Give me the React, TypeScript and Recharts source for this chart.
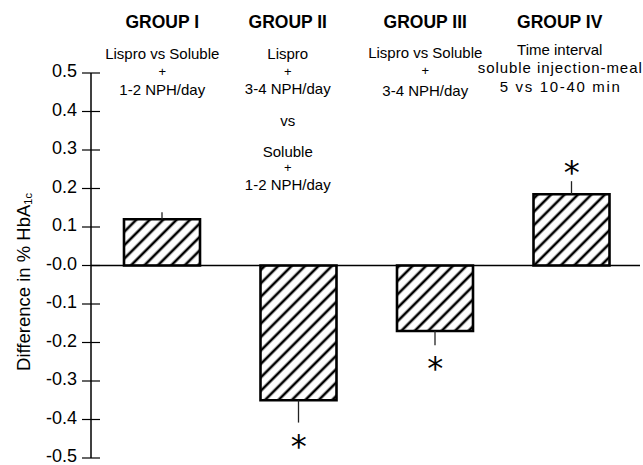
import React from 'react';
import { BarChart, Bar, XAxis, YAxis, ReferenceLine, ErrorBar, ReferenceDot } from 'recharts';

const groups = ['GROUP I', 'GROUP II', 'GROUP III', 'GROUP IV'];
const groupDescriptions = [
  ['Lispro vs Soluble', '+', '1-2 NPH/day'],
  ['Lispro', '+', '3-4 NPH/day', 'vs', 'Soluble', '+', '1-2 NPH/day'],
  ['Lispro vs Soluble', '+', '3-4 NPH/day'],
  ['Time interval', 'soluble injection-meal', '5 vs 10-40 min'],
];
const hba1cDifference = [0.12, -0.35, -0.17, 0.185];
const errorLower = [0, 0.058, 0.037, 0];
const errorUpper = [0.018, 0, 0, 0.034];
const significant = [false, true, true, true];
const yTicks = [0.5, 0.4, 0.3, 0.2, 0.1, 0, -0.1, -0.2, -0.3, -0.4, -0.5];
const yAxisTitle = 'Difference in % HbA';
const yAxisTitleSub = '1c';
const starLabel = '*';

const data = groups.map((g, i) => ({
  group: g,
  value: hba1cDifference[i],
  err: [errorLower[i], errorUpper[i]],
  sig: significant[i],
  errEnd: hba1cDifference[i] + (hba1cDifference[i] >= 0 ? errorUpper[i] : -errorLower[i]),
}));

const FONT = '"Liberation Sans", Arial, Helvetica, sans-serif';

// header layout (styling only)
const headerDx = [0, -11, -10, -12];
const titleY = 22;
const lineYs = [
  [53, 71, 89],
  [53, 71, 88, 120, 151, 167, 184],
  [52, 70, 90],
  [49, 67, 86],
];
const lineLengths: Record<number, (number | undefined)[]> = { 3: [undefined, 164, 120] };

const HeaderTick = (props: any) => {
  const { x, payload } = props;
  const index = groups.indexOf(payload.value);
  if (index < 0) return null;
  const cx = x + headerDx[index];
  return (
    <g>
      <text x={cx} y={titleY} textAnchor="middle" dominantBaseline="central" fontFamily={FONT} fontWeight="bold" fontSize={17.5} fill="#000">
        {groups[index]}
      </text>
      {groupDescriptions[index].map((line, j) => {
        const len = lineLengths[index] ? lineLengths[index][j] : undefined;
        return (
          <text
            key={j}
            x={cx}
            y={lineYs[index][j]}
            textAnchor="middle"
            dominantBaseline="central"
            fontFamily={FONT}
            fontSize={line === '+' ? 13 : 15}
            fill="#000"
            {...(len ? { textLength: len, lengthAdjust: 'spacing' } : {})}
          >
            {line}
          </text>
        );
      })}
    </g>
  );
};

const YTick = (props: any) => {
  const { x, y, payload } = props;
  const v = payload.value as number;
  const label = Math.abs(v) < 1e-9 ? '-0.0' : v.toFixed(1);
  return (
    <g>
      <line x1={x - 9} x2={x + 9} y1={y} y2={y} stroke="#000" strokeWidth={1.2} />
      <text x={x - 14} y={y - 2} textAnchor="end" dominantBaseline="central" fontFamily={FONT} fontSize={18} fill="#000">
        {label}
      </text>
    </g>
  );
};

const YTitle = () => (
  <text transform="translate(23,282) rotate(-90)" textAnchor="middle" dominantBaseline="central" fontFamily={FONT} fontSize={18.5} fill="#000">
    {yAxisTitle}
    <tspan fontSize={11} dy={5}>{yAxisTitleSub}</tspan>
  </text>
);

const STAR_SIZE = 32;

export default function App() {
  return (
    <div style={{ position: 'absolute', left: 0, top: 0, width: 643, height: 465, background: '#fff' }}>
      <BarChart width={643} height={465} data={data} margin={{ top: 13, right: 3, bottom: 7, left: 1 }}>
        <defs>
          <pattern id="hatch" patternUnits="userSpaceOnUse" width={9.5} height={9.5} patternTransform="rotate(45)">
            <rect x={0} y={0} width={9.5} height={9.5} fill="#fff" />
            <line x1={4.75} y1={-1} x2={4.75} y2={10.5} stroke="#000" strokeWidth={2.6} />
          </pattern>
        </defs>
        <XAxis
          dataKey="group"
          orientation="top"
          height={60}
          axisLine={false}
          tickLine={false}
          interval={0}
          padding={{ left: 3, right: 0 }}
          tick={<HeaderTick />}
        />
        <YAxis
          type="number"
          domain={[-0.5, 0.5]}
          ticks={yTicks}
          width={90}
          tickSize={0}
          tickMargin={0}
          tickLine={false}
          axisLine={{ stroke: '#000', strokeWidth: 1.5 }}
          tick={<YTick />}
          interval={0}
          label={{ content: () => <YTitle /> }}
        />
        <ReferenceLine y={0} stroke="#000" strokeWidth={1.5} />
        <Bar dataKey="value" fill="url(#hatch)" stroke="#000" strokeWidth={2.6} barSize={76} isAnimationActive={false}>
          <ErrorBar dataKey="err" direction="y" width={0} stroke="#222" strokeWidth={1.3} isAnimationActive={false} />
        </Bar>
        {data.filter((d) => d.sig).map((d) => (
          <ReferenceDot
            key={d.group}
            x={d.group}
            y={d.errEnd}
            r={0}
            shape={(p: any) => (
              <text
                x={p.cx}
                y={p.cy + (d.value < 0 ? 16 : -16) + 0.56 * STAR_SIZE}
                textAnchor="middle"
                fontFamily='"DejaVu Sans", sans-serif'
                fontSize={STAR_SIZE}
                fill="#000"
              >
                {starLabel}
              </text>
            )}
          />
        ))}
      </BarChart>
    </div>
  );
}
